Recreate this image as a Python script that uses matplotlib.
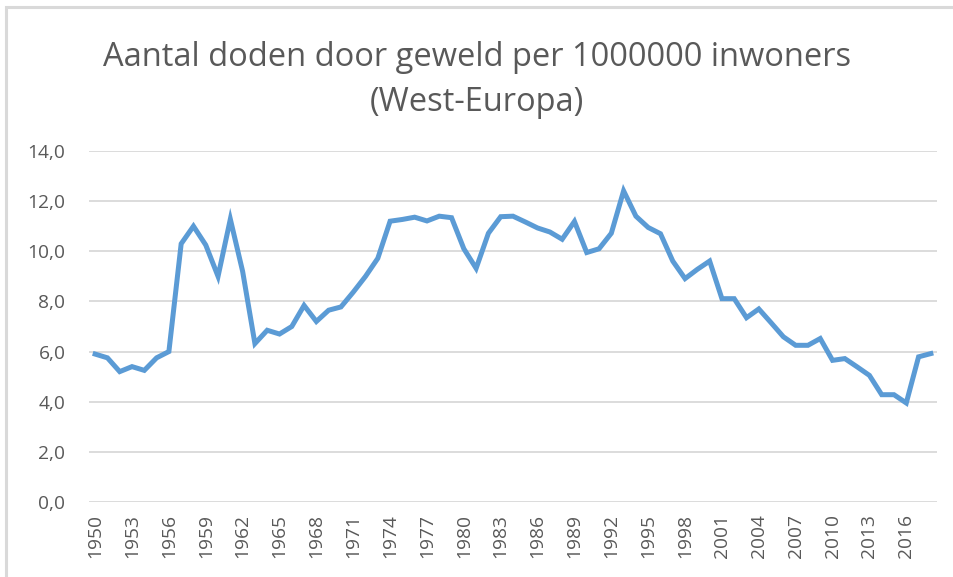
import matplotlib
matplotlib.use('Agg')
import matplotlib.pyplot as plt
from matplotlib.patches import Rectangle
from matplotlib.ticker import FuncFormatter

# data
years = list(range(1950, 2019))
deaths = [5.9, 5.75, 5.2, 5.4, 5.25, 5.75, 6.0, 10.3, 11.0, 10.25,
          9.0, 11.28, 9.2, 6.32, 6.85, 6.7, 7.0, 7.84, 7.2, 7.65,
          7.78, 8.37, 9.0, 9.72, 11.2, 11.27, 11.36, 11.21, 11.4, 11.34,
          10.1, 9.32, 10.72, 11.38, 11.4, 11.17, 10.93, 10.77, 10.48, 11.19,
          9.95, 10.1, 10.72, 12.41, 11.4, 10.95, 10.7, 9.61, 8.91, 9.28,
          9.61, 8.11, 8.11, 7.35, 7.7, 7.15, 6.59, 6.25, 6.25, 6.52,
          5.65, 5.72, 5.39, 5.05, 4.28, 4.28, 3.95, 5.79, 5.92]
tick_years = list(range(1950, 2017, 3))

title = 'Aantal doden door geweld per 1000000 inwoners\n(West-Europa)'
text_col = '#595959'
line_col = '#5B9BD5'
grid_col = '#D9D9D9'

plt.rcParams['font.family'] = ['Open Sans', 'DejaVu Sans']

fig = plt.figure(figsize=(9.54, 5.77), dpi=100)
ax = fig.add_axes([89/954, 75/577, 848/954, 351/577])

ax.plot(years, deaths, color=line_col, lw=3.6, solid_joinstyle='miter')

ax.set_xlim(1949.5, 2018.5)
ax.set_ylim(0, 14)
ax.set_yticks(range(0, 15, 2))
ax.yaxis.set_major_formatter(FuncFormatter(lambda v, p: '{:.1f}'.format(v).replace('.', ',')))
ax.set_xticks(tick_years)
ax.set_xticklabels([str(y) for y in tick_years], rotation=90)

for s in ax.spines.values():
    s.set_visible(False)
ax.grid(axis='y', color=grid_col, lw=1.3)
ax.set_axisbelow(True)
ax.tick_params(length=0, labelsize=13.8, colors=text_col)
ax.tick_params(axis='y', pad=17)
ax.tick_params(axis='x', pad=9)

fig.text(0.5, 0.861, title, ha='center', va='center', fontsize=23.5,
         color=text_col, linespacing=1.46)

# chart border like the office chart frame
fig.patches.append(Rectangle((6/954, -0.1), 1.1, 1.1 - 7/577, transform=fig.transFigure,
                             fill=False, edgecolor=grid_col, lw=2.2))

fig.savefig('out.png', dpi=100)
